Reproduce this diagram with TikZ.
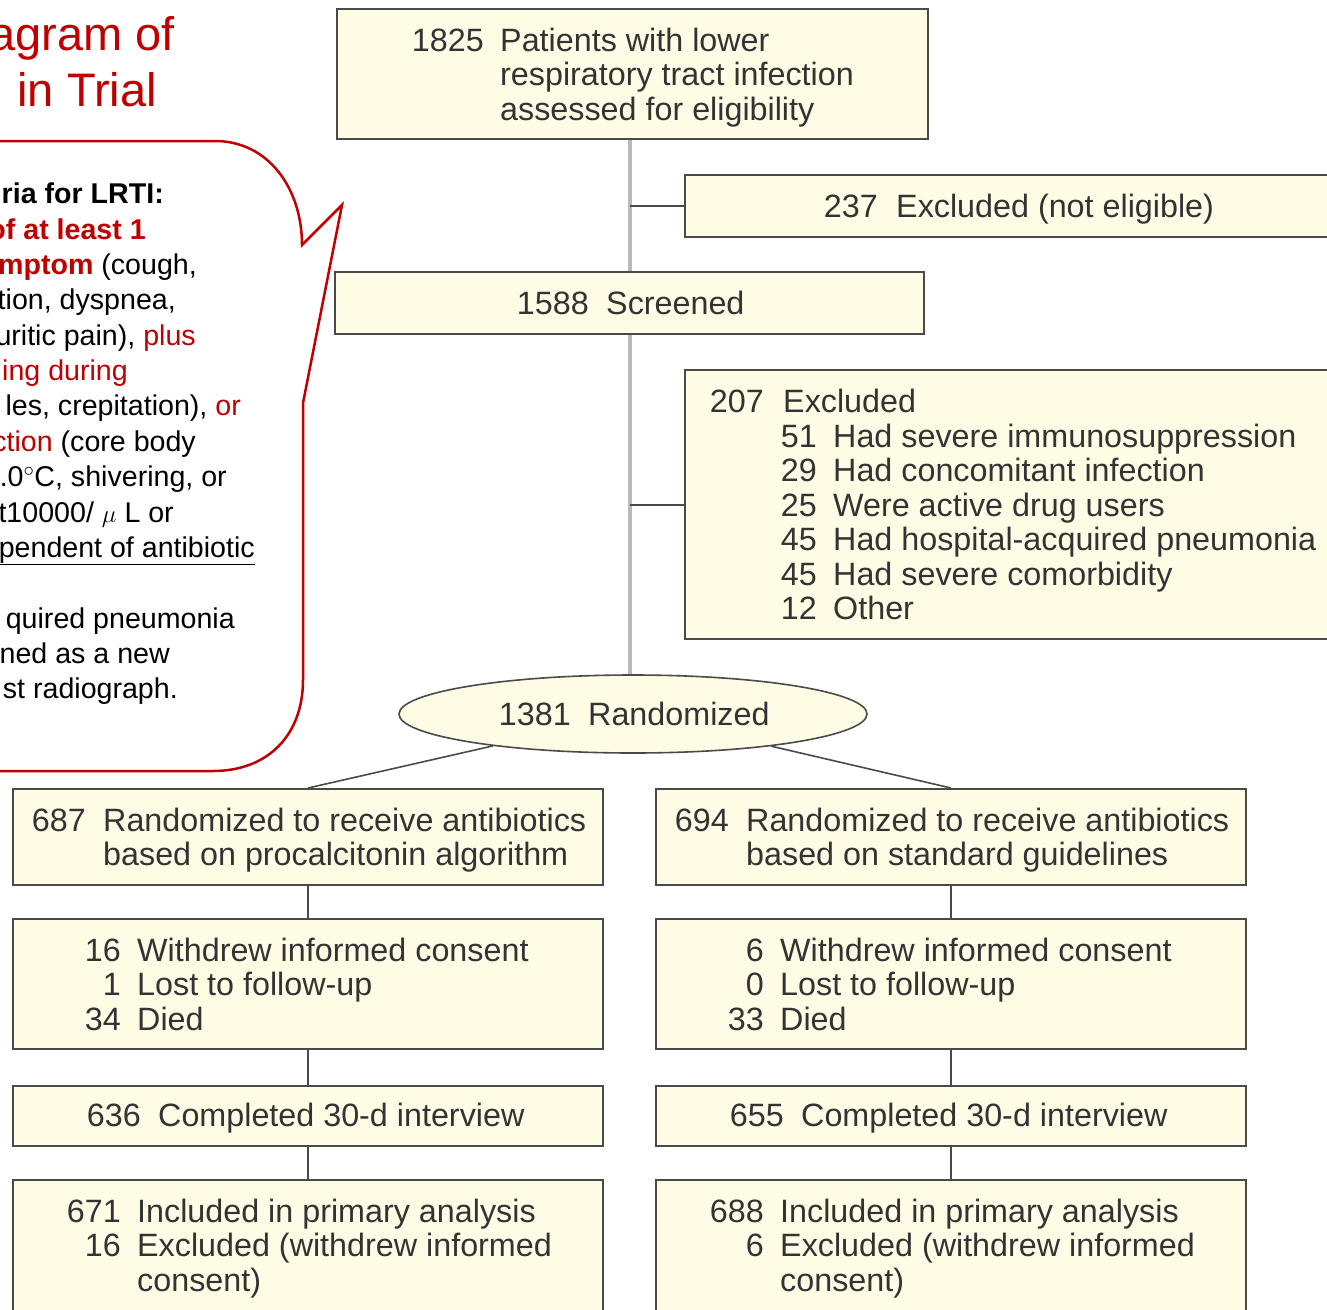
\documentclass[tikz,border=0pt]{standalone}
\usepackage{fontspec}
\setmainfont{Liberation Sans}
\usetikzlibrary{shapes.geometric}
\definecolor{boxfill}{HTML}{FFFCE6}
\definecolor{boxline}{HTML}{4A4A4A}
\definecolor{trunkgray}{HTML}{B8B8B8}
\definecolor{txt}{HTML}{333333}
\definecolor{callred}{HTML}{C00000}
\newcommand\fltl[1]{\begin{tabular}[t]{@{}l@{}}#1\end{tabular}}
\newcommand\fltr[1]{\begin{tabular}[t]{@{}r@{}}#1\end{tabular}}
\begin{document}
\begin{tikzpicture}[x=1pt,y=-1pt,
  flowbox/.style={draw=boxline, line width=2pt, fill=boxfill, inner sep=0pt, rectangle},
  ovalbox/.style={draw=boxline, line width=1.6pt, fill=boxfill, inner sep=0pt, ellipse},
  ftxt/.style={inner sep=0pt, text=txt, font=\fontsize{32.3}{34.5}\selectfont, anchor=base west},
  fnum/.style={inner sep=0pt, text=txt, font=\fontsize{32.3}{34.5}\selectfont, anchor=base east},
  ctxt/.style={inner sep=0pt, text=black, font=\fontsize{28.6}{35.3}\selectfont, anchor=base east},
  ttl/.style={inner sep=0pt, text=callred, font=\fontsize{47}{55}\selectfont, anchor=base east},
  trunk/.style={draw=trunkgray, line width=4pt},
  branch/.style={draw=boxline, line width=2pt},
  link/.style={draw=boxline, line width=1.6pt}
]
\useasboundingbox (0,0) rectangle (1327,1309);
\clip (0,0) rectangle (1327,1309);
\fill[white] (0,0) rectangle (1327,1309);

% ---------- callout ----------
\draw[callred, line width=2.5pt, line join=miter]
  (-30,141) -- (215,141) .. controls (268,141) and (302,188) .. (302,245)
  -- (342,205) -- (303,403) -- (303,680)
  .. controls (303,735) and (268,771) .. (213,771) -- (-30,771);

\node[ttl] (title1) at (175,50) {agram of};
\node[ttl] (title2) at (157,106) {in Trial};

\node[ctxt] (c1) at (164,203) {\bfseries ria for LRTI:};
\node[ctxt] (c2) at (146,239) {\color{callred}\bfseries of at least 1};
\node[ctxt] (c3) at (197,274) {{\color{callred}\bfseries mptom} (cough,};
\node[ctxt] (c4) at (176,309) {tion, dyspnea,};
\node[ctxt] (c5) at (196,345) {uritic pain), {\color{callred}plus}};
\node[ctxt] (c6) at (128,380) {\color{callred}ing during};
\node[ctxt] (c7) at (241,415) {les, crepitation), {\color{callred}or}};
\node[ctxt] (c8) at (196,451) {{\color{callred}ction} (core body};
\node[ctxt] (c9) at (227,486) {.0${}^{\circ}$C, shivering, or};
\node[ctxt] (c10) at (174,522) {t10000/ $\mu$ L or};
\node[ctxt] (c11) at (255,557) {\underline{pendent of antibiotic}};
\node[ctxt] (c12) at (235,628) {quired pneumonia};
\node[ctxt] (c13) at (170,663) {ned as a new};
\node[ctxt] (c14) at (178,698) {st radiograph.};

% ---------- boxes ----------
\node[flowbox, minimum width=591pt, minimum height=130pt] (b1) at (632.5,74) {};
\node[flowbox, minimum width=660pt, minimum height=62pt] (b2) at (1015,206) {};
\node[flowbox, minimum width=589pt, minimum height=62pt] (b3) at (629.5,303) {};
\node[flowbox, minimum width=660pt, minimum height=269pt] (b4) at (1015,504.5) {};
\node[ovalbox, minimum width=468pt, minimum height=78pt] (rnd) at (633,714) {};

\node[flowbox, minimum width=590pt, minimum height=96pt] (l1) at (308,837) {};
\node[flowbox, minimum width=590pt, minimum height=130pt] (l2) at (308,984) {};
\node[flowbox, minimum width=590pt, minimum height=60pt] (l3) at (308,1116) {};
\node[flowbox, minimum width=590pt, minimum height=150pt] (l4) at (308,1255) {};

\node[flowbox, minimum width=590pt, minimum height=96pt] (r1) at (951,837) {};
\node[flowbox, minimum width=590pt, minimum height=130pt] (r2) at (951,984) {};
\node[flowbox, minimum width=590pt, minimum height=60pt] (r3) at (951,1116) {};
\node[flowbox, minimum width=590pt, minimum height=150pt] (r4) at (951,1255) {};

% ---------- connectors ----------
\draw[trunk] (b3.north |- b1.south) -- (b3.north);
\draw[trunk] (b3.south) -- (b3.south |- rnd.north);
\draw[branch] (b2.west) -- (b2.west -| b3.north);
\draw[branch] (b4.west) -- (b4.west -| b3.north);
\draw[link] (rnd) -- (l1.north);
\draw[link] (rnd) -- (r1.north);
\draw[link] (l1.south) -- (l2.north);
\draw[link] (l2.south) -- (l3.north);
\draw[link] (l3.south) -- (l4.north);
\draw[link] (r1.south) -- (r2.north);
\draw[link] (r2.south) -- (r3.north);
\draw[link] (r3.south) -- (r4.north);

% ---------- texts ----------
\node[fnum] (n1) at (484,51) {1825};
\node[ftxt] (t1) at (500,51) {\fltl{Patients with lower\\respiratory tract infection\\assessed for eligibility}};

\node[fnum] (n2) at (878,217) {237};
\node[ftxt] (t2) at (896,217) {Excluded (not eligible)};

\node[fnum] (n3) at (589,314) {1588};
\node[ftxt] (t3) at (606,314) {Screened};

\node[fnum] (n4) at (764,412) {207};
\node[ftxt] (t4) at (783,412) {Excluded};
\node[fnum] (n4b) at (817,447) {\fltr{51\\29\\25\\45\\45\\12}};
\node[ftxt] (t4b) at (833,447) {\fltl{Had severe immunosuppression\\Had concomitant infection\\Were active drug users\\Had hospital-acquired pneumonia\\Had severe comorbidity\\Other}};

\node[fnum] (n5) at (571,725) {1381};
\node[ftxt] (t5) at (588,725) {Randomized};

\node[fnum] (nl1) at (86,831) {687};
\node[ftxt] (tl1) at (103,831) {\fltl{Randomized to receive antibiotics\\based on procalcitonin algorithm}};
\node[fnum] (nr1) at (729,831) {694};
\node[ftxt] (tr1) at (746,831) {\fltl{Randomized to receive antibiotics\\based on standard guidelines}};

\node[fnum] (nl2) at (121,961) {\fltr{16\\1\\34}};
\node[ftxt] (tl2) at (137,961) {\fltl{Withdrew informed consent\\Lost to follow-up\\Died}};
\node[fnum] (nr2) at (764,961) {\fltr{6\\0\\33}};
\node[ftxt] (tr2) at (780,961) {\fltl{Withdrew informed consent\\Lost to follow-up\\Died}};

\node[fnum] (nl3) at (141,1126) {636};
\node[ftxt] (tl3) at (158,1126) {Completed 30-d interview};
\node[fnum] (nr3) at (784,1126) {655};
\node[ftxt] (tr3) at (801,1126) {Completed 30-d interview};

\node[fnum] (nl4) at (121,1222) {\fltr{671\\16}};
\node[ftxt] (tl4) at (137,1222) {\fltl{Included in primary analysis\\Excluded (withdrew informed\\consent)}};
\node[fnum] (nr4) at (764,1222) {\fltr{688\\6}};
\node[ftxt] (tr4) at (780,1222) {\fltl{Included in primary analysis\\Excluded (withdrew informed\\consent)}};
\end{tikzpicture}
\end{document}
